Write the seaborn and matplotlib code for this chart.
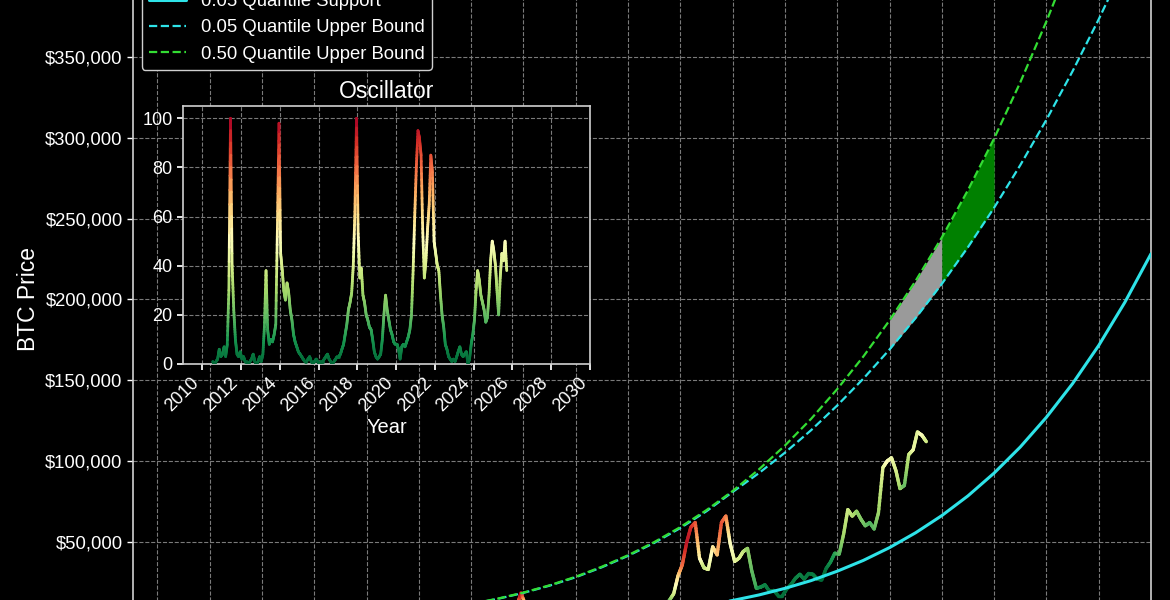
import numpy as np
import pandas as pd
import seaborn as sns
import matplotlib
matplotlib.use("Agg")
import matplotlib.pyplot as plt
from matplotlib.collections import LineCollection
from matplotlib.lines import Line2D
from matplotlib.ticker import FuncFormatter, MultipleLocator

# ---- monthly data, Jul 2010 .. Sep 2025 ----
months = pd.date_range("2010-07-01", "2025-09-01", freq="MS") + pd.Timedelta(days=14)

osc = [1, 0, 1, 2, 6, 3,
       4, 7, 3, 8, 30, 100, 40, 22, 10, 4, 3, 5,
       2, 3, 1, 1, 0, 1, 2, 4, 1, 0, 1, 3,
       1, 4, 15, 38, 14, 8, 10, 9, 12, 16, 55, 98,
       45, 38, 30, 26, 33, 29, 22, 18, 12, 9, 7, 5,
       4, 3, 2, 1, 1, 2, 3, 1, 0, 1, 2, 1,
       0, 1, 1, 2, 3, 4, 2, 1, 0, 1, 2, 3,
       3, 4, 6, 8, 12, 16, 22, 25, 29, 40, 62, 100,
       53, 35, 39, 28, 25, 20, 18, 15, 14, 10, 5, 3,
       2, 3, 4, 10, 20, 28, 22, 18, 14, 12, 9, 8,
       8, 6, 2, 7, 8, 7, 9, 11, 14, 20, 38, 60,
       80, 95, 92, 85, 55, 35, 42, 55, 65, 85, 78, 50,
       45, 40, 38, 28, 20, 15, 8, 6, 3, 2, 1, 2,
       1, 3, 5, 7, 4, 3, 4, 5, 0, 2, 8, 12,
       18, 30, 38, 34, 28, 25, 22, 17, 19, 28, 42, 50,
       46, 40, 30, 20, 35, 45, 42, 50, 38]

price = [0.07, 0.07, 0.06, 0.10, 0.25, 0.25,
         0.4, 0.9, 0.85, 1.5, 8, 17, 14, 10, 5, 3.5, 2.8, 3.5,
         6, 5, 4.9, 5, 5.1, 6.5, 8.5, 11, 12, 11.5, 11.5, 13,
         17, 28, 60, 140, 120, 100, 90, 115, 130, 170, 700, 850,
         850, 600, 520, 440, 560, 600, 600, 480, 400, 340, 360, 320,
         220, 250, 250, 230, 235, 250, 280, 230, 235, 290, 360, 430,
         380, 430, 415, 450, 530, 670, 650, 575, 610, 700, 740, 960,
         970, 1190, 1070, 1350, 2300, 2500, 2870, 4700, 4300, 6400, 10000, 18500,
         11000, 10300, 7000, 9200, 7500, 6400, 7700, 7000, 6600, 6300, 4000, 3700,
         3450, 3800, 4100, 5300, 8500, 11000, 10000, 9600, 8300, 9200, 7500, 7200,
         9300, 8600, 6400, 8600, 9500, 9100, 11300, 11700, 10800, 13800, 18000, 29000,
         36000, 50000, 59000, 62000, 40000, 34000, 33000, 47000, 42000, 62000, 66000, 49000,
         38000, 40000, 44000, 46000, 32000, 21500, 22000, 23500, 19500, 20000, 16800, 16800,
         21000, 24000, 27500, 30000, 27000, 30500, 30000, 27000, 26500, 33500, 37500, 43000,
         42500, 55000, 70000, 66000, 69000, 64000, 60000, 62000, 58000, 68000, 96000, 100000,
         102000, 94000, 83000, 85000, 104000, 107000, 118000, 116000, 112000]

# ---- quantile model curves ----
curve_years = [2011, 2012, 2013, 2014, 2015, 2016, 2016.5, 2017, 2017.5, 2018, 2018.5,
               2019, 2019.5, 2020, 2020.5, 2021, 2021.5, 2022, 2022.5, 2023, 2023.5,
               2024, 2024.5, 2025, 2025.5, 2026, 2026.5, 2027, 2027.5, 2028, 2028.5,
               2029, 2029.5, 2030]
support_05 = [0.24, 2.6, 14, 52, 150, 370, 550, 800, 1150, 1600, 2200,
              3000, 4000, 5200, 6700, 8600, 11000, 13800, 17200, 21300, 26100,
              31900, 38600, 46500, 55700, 66300, 78500, 92600, 108700, 127100, 147900,
              171500, 198200, 228200]
upper_05 = [45, 228, 723, 1760, 3660, 6780, 8940, 11570, 14750, 18500, 22970,
            28200, 34350, 41400, 49400, 58600, 69000, 80900, 92500, 105200, 119100,
            134400, 151000, 169000, 188500, 209600, 232300, 256700, 283000, 311100, 341100,
            373200, 407300, 443700]
upper_50 = [46, 230, 730, 1780, 3700, 6850, 9030, 11690, 14900, 18700, 23200,
            28500, 34700, 41800, 49900, 59200, 69700, 81500, 94800, 109600, 126100,
            144500, 164700, 187000, 211500, 238300, 267600, 299500, 334200, 371900, 412600,
            456500, 504000, 555000]

legend_labels = ["0.05 Quantile Support", "0.05 Quantile Upper Bound", "0.50 Quantile Upper Bound"]
osc_ticks = list(range(2010, 2031, 2))

CYAN = "#2ee3e8"
LIME = "#33dd33"
GRIDC = "#7a7a7a"
SPINE = "#d0d0d0"

sns.set_theme(style="darkgrid", rc={
    "figure.facecolor": "black", "axes.facecolor": "black",
    "axes.edgecolor": SPINE, "grid.color": GRIDC, "grid.linestyle": "--",
    "grid.linewidth": 0.8, "text.color": "white", "axes.labelcolor": "white",
    "xtick.color": "white", "ytick.color": "white",
    "xtick.bottom": True, "ytick.left": True,
})
plt.rcParams["font.family"] = ["Liberation Sans", "DejaVu Sans"]

years = np.asarray(months.year + (months.dayofyear - 1) / 365.25, dtype=float)
osc = np.asarray(osc, dtype=float)
price = np.asarray(price, dtype=float)
cy = np.asarray(curve_years, dtype=float)
u05 = np.asarray(upper_05, dtype=float)
u50 = np.asarray(upper_50, dtype=float)

cmap = plt.get_cmap("RdYlGn_r")
norm = plt.Normalize(0, 100)


def gradient_line(ax, x, y, c, lw, n=12, z=3):
    # split every segment into short pieces so colour changes along it
    t = np.linspace(0, 1, n + 1)
    xs = (x[:-1, None] + (x[1:] - x[:-1])[:, None] * t).ravel()
    ys = (y[:-1, None] + (y[1:] - y[:-1])[:, None] * t).ravel()
    cs = (c[:-1, None] + (c[1:] - c[:-1])[:, None] * t).ravel()
    p = np.column_stack([xs, ys])
    segs = np.stack([p[:-1], p[1:]], axis=1)
    lc = LineCollection(segs, cmap=cmap, norm=norm, linewidth=lw, zorder=z,
                        capstyle="round", joinstyle="round")
    lc.set_array((cs[:-1] + cs[1:]) / 2)
    ax.add_collection(lc)


fig = plt.figure(figsize=(11.7, 6), dpi=100)

# main axes extends past the figure edges (chart is a crop)
ax = fig.add_axes([133 / 1170, -22.8 / 600, 1018 / 1170, 646.8 / 600])

gradient_line(ax, years, price, osc, lw=2.4)

m1 = (cy >= 2025) & (cy <= 2026)
m2 = (cy >= 2026) & (cy <= 2027)
ax.fill_between(cy[m1], u05[m1], u50[m1], color="#9a9a9a", lw=0, zorder=2)
ax.fill_between(cy[m2], u05[m2], u50[m2], color="#008000", lw=0, zorder=2)

sns.lineplot(x=cy, y=support_05, ax=ax, color=CYAN, lw=2.2, zorder=4)
sns.lineplot(x=cy, y=upper_05, ax=ax, color=CYAN, lw=1.6, linestyle="--", zorder=4)
sns.lineplot(x=cy, y=upper_50, ax=ax, color=LIME, lw=1.6, linestyle="--", zorder=5)

ax.set_xlim(years[0], 2030)
ax.set_ylim(0, 400000)
ax.xaxis.set_major_locator(MultipleLocator(1))
ax.set_yticks(range(50000, 400001, 50000))
ax.yaxis.set_major_formatter(FuncFormatter(lambda v, p: "${:,.0f}".format(v)))
ax.tick_params(axis="y", labelsize=13.3, length=4, width=1, color="white")
ax.tick_params(axis="x", labelbottom=False)
ax.set_ylabel("BTC Price", fontsize=16.5, color="white")
ax.grid(True, color=GRIDC, linestyle="--", linewidth=0.8)
for s in ["left", "right"]:
    ax.spines[s].set_visible(True)
    ax.spines[s].set_color(SPINE)
    ax.spines[s].set_linewidth(1.2)
ax.spines["top"].set_visible(False)
ax.spines["bottom"].set_visible(False)

handles = [Line2D([], [], color=CYAN, lw=2.2),
           Line2D([], [], color=CYAN, lw=1.6, ls="--"),
           Line2D([], [], color=LIME, lw=1.6, ls="--")]
leg = ax.legend(handles, legend_labels, loc="lower left",
                bbox_to_anchor=(141.6 / 1170, 530 / 600), bbox_transform=fig.transFigure,
                borderaxespad=0, fontsize=13.3, facecolor="black", edgecolor=SPINE,
                labelcolor="white", framealpha=1)
leg.set_zorder(10)

# ---- oscillator inset ----
axin = fig.add_axes([183 / 1170, 236 / 600, 407 / 1170, 258 / 600])
axin.set_facecolor("black")
gradient_line(axin, years, osc, osc, lw=2.0)
axin.set_xlim(2009, 2030)
axin.set_ylim(0, 105)
axin.set_xticks(osc_ticks)
axin.set_xticklabels([str(t) for t in osc_ticks], rotation=45, ha="right", fontsize=13)
axin.set_yticks(range(0, 101, 20))
axin.tick_params(axis="y", labelsize=13, length=4, color="white")
axin.tick_params(axis="x", length=4, color="white")
axin.grid(True, color=GRIDC, linestyle="--", linewidth=0.8)
axin.set_title("Oscillator", fontsize=16.5, color="white")
axin.set_xlabel("Year", fontsize=14.5, color="white", labelpad=2)
for s in axin.spines.values():
    s.set_visible(True)
    s.set_color(SPINE)
    s.set_linewidth(1.2)

fig.savefig("out.png", dpi=100, facecolor="black")
